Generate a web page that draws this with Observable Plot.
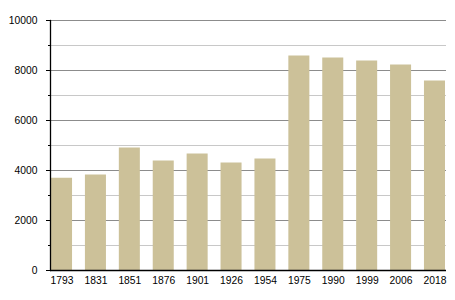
<!DOCTYPE html>
<html>
<head>
<meta charset="utf-8">
<script src="https://cdn.jsdelivr.net/npm/d3@7"></script>
<script src="https://cdn.jsdelivr.net/npm/@observablehq/plot@0.6"></script>
<style>
  html, body { margin: 0; padding: 0; background: #fff; }
  #chart svg { display: block; }
</style>
</head>
<body>
<div id="chart"></div>
<script>
const years = ["1793", "1831", "1851", "1876", "1901", "1926", "1954", "1975", "1990", "1999", "2006", "2018"];
const population = [3690, 3820, 4900, 4380, 4660, 4300, 4460, 8580, 8500, 8380, 8220, 7580];
const majorTicks = [0, 2000, 4000, 6000, 8000, 10000];
const minorTicks = [1000, 3000, 5000, 7000, 9000];

const data = years.map((year, i) => ({year, population: population[i]}));
const allTicks = [...majorTicks, ...minorTicks];

const chart = Plot.plot({
  width: 455,
  height: 300,
  marginLeft: 50,
  marginRight: 9,
  marginTop: 20,
  marginBottom: 30,
  style: {fontFamily: "'Liberation Sans', Arial, sans-serif", fontSize: "10.3px", color: "#000", background: "#fff"},
  x: {domain: years, paddingInner: 0.38, paddingOuter: 0.03, round: false, label: null},
  y: {domain: [0, 10000], label: null},
  marks: [
    Plot.gridY(minorTicks, {stroke: "#c8c8c8", strokeOpacity: 1, strokeWidth: 1}),
    Plot.gridY(majorTicks, {stroke: "#8c8c8c", strokeOpacity: 1, strokeWidth: 1}),
    Plot.barY(data, {x: "year", y: "population", fill: "#ccc199"}),
    Plot.axisY(allTicks, {tickSize: 2, tickFormat: () => "", stroke: "#000"}),
    Plot.axisY(majorTicks, {tickSize: 4, tickPadding: 9, tickFormat: d => String(d), stroke: "#000", fill: "#000"}),
    Plot.axisX({tickSize: 0, tickPadding: 6, fill: "#000"}),
    Plot.frame({anchor: "left", stroke: "#000", strokeWidth: 1.3}),
    Plot.ruleY([0], {stroke: "#000", strokeWidth: 1.3})
  ]
});
document.getElementById("chart").appendChild(chart);
</script>
</body>
</html>
